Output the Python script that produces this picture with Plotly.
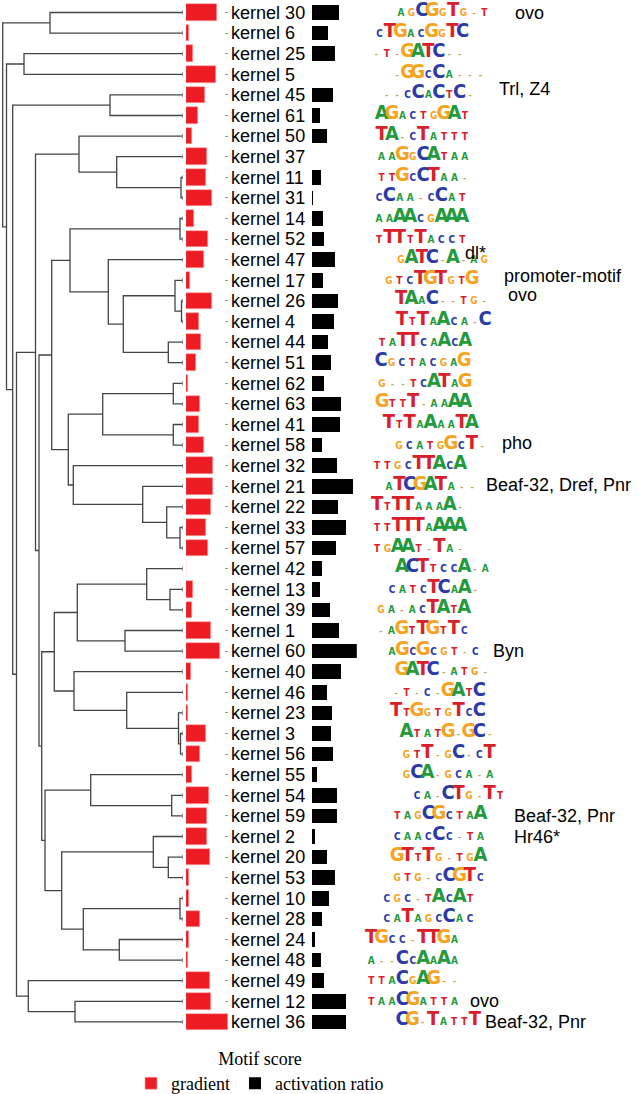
import plotly.graph_objects as go

# ---------------- data ----------------
kernels = [30, 6, 25, 5, 45, 61, 50, 37, 11, 31, 14, 52, 47, 17, 26, 4, 44, 51, 62, 63,
           41, 58, 32, 21, 22, 33, 57, 42, 13, 39, 1, 60, 40, 46, 23, 3, 56, 55, 54, 59,
           2, 20, 53, 10, 28, 24, 48, 49, 12, 36]

gradient = [0.73, 0.07, 0.16, 0.72, 0.46, 0.28, 0.15, 0.50, 0.48, 0.62,
            0.18, 0.51, 0.42, 0.10, 0.61, 0.31, 0.35, 0.24, 0.05, 0.32,
            0.31, 0.42, 0.63, 0.65, 0.59, 0.47, 0.51, 0.00, 0.17, 0.13,
            0.58, 0.80, 0.12, 0.05, 0.05, 0.47, 0.32, 0.15, 0.55, 0.50,
            0.50, 0.57, 0.06, 0.06, 0.34, 0.06, 0.05, 0.57, 0.58, 1.00]

activation = [0.60, 0.36, 0.51, 0.00, 0.46, 0.18, 0.34, 0.00, 0.20, 0.015,
              0.24, 0.27, 0.51, 0.24, 0.57, 0.48, 0.36, 0.43, 0.26, 0.65,
              0.61, 0.21, 0.56, 0.91, 0.57, 0.74, 0.52, 0.22, 0.17, 0.40,
              0.60, 1.00, 0.63, 0.33, 0.45, 0.43, 0.47, 0.10, 0.55, 0.55,
              0.06, 0.32, 0.51, 0.38, 0.21, 0.06, 0.20, 0.27, 0.75, 0.75]

# hierarchical clustering merges: (node, child a, child b, merge height)
merges = [
    ("D", 11, 31, 2), ("E", 37, "D", 66.3), ("F", 50, "E", 104),
    ("A", 30, 6, 133), ("B", 25, 5, 159), ("C", 45, 61, 73),
    ("LL", 14, 52, 3), ("PP", 26, 4, 1.5), ("OO", 17, "PP", 8),
    ("QQ", 44, 51, 14.7), ("NN", "OO", "QQ", 59.7), ("MM", 47, "NN", 74.7),
    ("JJ", "LL", "MM", 113), ("SS", 62, 63, 9.7), ("TT", 41, 58, 9.7),
    ("RR", "SS", "TT", 80.3), ("XX", 33, 57, 3), ("WW", 22, "XX", 16.3),
    ("VV", 21, "WW", 40.3), ("UU", 32, "VV", 109.7), ("KK", "RR", "UU", 114.7),
    ("H", "JJ", "KK", 131.3), ("EE", 13, 39, 13), ("DD", 42, "EE", 36.3),
    ("FF", 1, 60, 58), ("BB", "DD", "FF", 105.7), ("II", 3, 56, 2.5),
    ("HH", 23, "II", 4.5), ("GG", 46, "HH", 56.3), ("CC", 40, "GG", 109),
    ("AA", "BB", "CC", 128.7), ("M", 54, 59, 11.3), ("L", 55, "M", 92.3),
    ("P", 20, 53, 14.7), ("O", 2, "P", 29.7), ("R", 10, 28, 3),
    ("S", 24, 48, 63.7), ("Q", "R", "S", 99.7), ("N", "O", "Q", 121.3),
    ("T", "L", "N", 138), ("U", "AA", "T", 141.3), ("I", "H", "U", 144),
    ("G", "F", "I", 147.5), ("K", 12, 36, 108), ("W", 49, "K", 154.7),
    ("V", "G", "W", 166.5), ("X", "C", "V", 170.3), ("Y", "B", "X", 176.5),
    ("Z", "A", "Y", 180.3),
]

# sequence logos: upper case = strong position, lower case = weak, _ = ~no information
logos = ["agCGgTg_t", "cTGacGgTC", "_t_GATC__", "_GGcCa___", "__cCaCtC_",
         "AGactgGAt", "TA_cTattt", "aaGgCAtaa", "ttGcCTaa_", "cCaa_cCat",
         "aaAAcgAAA", "tTTtTacct", "gATC_A_ag", "gtcTGTgtG", "TAaC__tg_",
         "TtTaAca_C", "taTTcaAcA", "CgctacgaG", "g__tcATaG", "GttT_aaAA",
         "TtTaAaaTA", "gcatgGcT_", "ttgcTTAcA", "aTCGATa__", "TtTTaaaA_",
         "ttTTTaAAA", "tgAAt_Ta_", "ACTtccA_a", "catcTCaA_", "ga_acTAtA",
         "_aGtTGtTc", "aGcGcgt_c", "GATC_atg_", "_t_c_GAtC", "TtGgtgTcC",
         "AtatG_GC_", "gtT_gC_cT", "gCA_gca_a", "ca_CTg_Tt", "tagCGctaA",
         "caacCc_ta", "GTtTg_tgA", "gtg_cCGTc", "cgc_tAcAt", "caTagcCac",
         "TGcc_TTGa", "a__CcAaAa", "ttaCgAG__", "taaCGatta", "CG_TattT"]
logo_shift = [2.87, 0.8, 0.5, 2.5, 1.5, 1.0, 1.0, 1.0, 1.0, 0.75,
              0.75, 0.75, 2.87, 1.7, 2.87, 2.96, 1.04, 0.94, 1.04, 1.04,
              1.7, 2.67, 0.56, 1.7, 0.56, 0.56, 0.56, 2.96, 2.0, 0.94,
              0.94, 2.0, 2.96, 2.4, 2.4, 3.4, 3.4, 3.4, 4.4, 2.5,
              2.5, 2.5, 2.5, 1.5, 1.5, 0.0, 0.0, 0.0, 0.0, 2.96]

annot_kernel = [30, 45, 47, 17, 26, 58, 21, 60, 59, 2, 12, 36]
annot_text = ["ovo", "Trl, Z4", "dl*", "promoter-motif", "ovo", "pho",
              "Beaf-32, Dref, Pnr", "Byn", "Beaf-32, Pnr", "Hr46*", "ovo", "Beaf-32, Pnr"]

# ---------------- layout constants ----------------
W, H = 638, 1094
ROW_PX = 20.6
TOP_PX = 12.5
n = len(kernels)
y_top = -TOP_PX / ROW_PX
y_bot = (H - TOP_PX) / ROW_PX
rows = list(range(n))

annot_x_px = [513, 497, 463, 502, 506, 500, 484, 491, 512, 512, 468, 483]
annot_yshift = [0, 6, 7, 4, 6, 2, 1, 0, 0, 0, 0, 0]

# ---------------- dendrogram coordinates ----------------
node_y = {k: i for i, k in enumerate(kernels)}
node_h = {k: 0.0 for k in kernels}
dx, dy = [], []
for name, a, b, h in merges:
    ya, yb = node_y[a], node_y[b]
    dx += [node_h[a], h, h, node_h[b], None]
    dy += [ya, ya, yb, yb, None]
    node_y[name] = (ya + yb) / 2
    node_h[name] = h

fig = go.Figure()
fig.add_trace(go.Scatter(x=dx, y=dy, mode="lines", xaxis="x", yaxis="y",
                         line=dict(color="#444444", width=1.3),
                         showlegend=False, hoverinfo="skip"))
fig.add_trace(go.Scatter(x=[0] * n, y=rows, mode="markers", xaxis="x", yaxis="y",
                         marker=dict(symbol="triangle-right", size=4, color="#888888"),
                         showlegend=False, hoverinfo="skip"))

fig.add_trace(go.Bar(x=gradient, y=rows, orientation="h", xaxis="x2", yaxis="y",
                     width=0.8, name="gradient",
                     marker=dict(color="#ed1c24", line=dict(color="#f7a5a5", width=0.6))))
fig.add_trace(go.Bar(x=activation, y=rows, orientation="h", xaxis="x3", yaxis="y",
                     width=0.7, name="activation ratio",
                     marker=dict(color="#000000", line=dict(width=0))))

# ---------------- sequence logos ----------------
LOGO_COLORS = {"A": "#239a3b", "C": "#2b3aa8", "G": "#f6a41f", "T": "#d9202a"}
lx, ly, lt, lc, ls = [], [], [], [], []
for i, (motif, sh) in enumerate(zip(logos, logo_shift)):
    for j, ch in enumerate(motif):
        if ch == "_":
            txt, size, col = "-", 9, "#c9a25a"
        elif ch.isupper():
            txt, size, col = ch, 20, LOGO_COLORS[ch]
        else:
            txt, size, col = ch.upper(), 10, LOGO_COLORS[ch.upper()]
        lx.append(sh + j)
        ly.append(i + (3.5 - 0.25 * size) / ROW_PX)
        lt.append(txt)
        lc.append(col)
        ls.append(size)
fig.add_trace(go.Scatter(x=lx, y=ly, text=lt, mode="text", xaxis="x4", yaxis="y",
                         textposition="middle center",
                         textfont=dict(family="Liberation Sans Narrow, DejaVu Sans Condensed, Liberation Sans",
                                       size=ls, color=lc, weight="bold"),
                         showlegend=False, hoverinfo="skip"))

for k, t, xp, ys in zip(annot_kernel, annot_text, annot_x_px, annot_yshift):
    fig.add_annotation(x=xp / W, xref="paper", y=kernels.index(k), yref="y",
                       text=t, showarrow=False, xanchor="left", yanchor="middle",
                       yshift=ys,
                       font=dict(family="Liberation Sans", size=18, color="black"))

COL_W = 10.4
logo_c0 = 371.2
hidden = dict(visible=False, showgrid=False, zeroline=False, fixedrange=True)
fig.update_layout(
    width=W, height=H, margin=dict(l=0, r=0, t=0, b=0, autoexpand=False),
    paper_bgcolor="white", plot_bgcolor="white",
    bargap=0, barmode="overlay",
    xaxis=dict(domain=[0, 183 / W], range=[183, 0], anchor="y", **hidden),
    xaxis2=dict(domain=[186 / W, 228.3 / W], range=[0, 1], anchor="y", **hidden),
    xaxis3=dict(domain=[311.5 / W, 356.8 / W], range=[0, 1], anchor="y", **hidden),
    xaxis4=dict(domain=[360 / W, 1], range=[(360 - logo_c0) / COL_W, (W - logo_c0) / COL_W],
                anchor="y", **hidden),
    yaxis=dict(domain=[0, 1], range=[y_bot, y_top], anchor="free", position=223.5 / W,
               side="right", showgrid=False, zeroline=False, showline=False,
               tickvals=rows, ticktext=[f"kernel {k}" for k in kernels],
               ticks="outside", ticklen=3, tickcolor="#999999", automargin=False,
               tickfont=dict(family="Liberation Sans", size=18, color="black")),
    legend=dict(orientation="h", x=131 / W, xanchor="left", y=-0.007, yanchor="bottom",
                bgcolor="rgba(0,0,0,0)", traceorder="normal",
                font=dict(family="Liberation Serif", size=18, color="black"),
                title=dict(text="Motif score", side="top center",
                           font=dict(family="Liberation Serif", size=18, color="black"))),
)

fig.write_html("out.html", config={"displayModeBar": False},
               post_script="document.body.style.margin='0';document.body.style.padding='0';")
